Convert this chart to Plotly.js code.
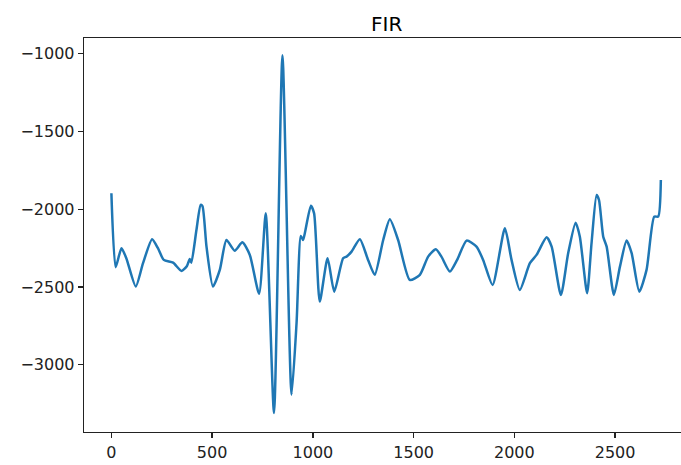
<!DOCTYPE html>
<html>
<head>
<meta charset="utf-8">
<script src="https://cdn.plot.ly/plotly-3.0.1.min.js"></script>
<style>html,body{margin:0;padding:0;background:#fff;overflow:hidden;}#chart{width:681px;height:465px;}</style>
</head>
<body>
<div id="chart"></div>
<script>
const sampleIndex = [0,21,50,74,121,157,202,231,260,306,348,375,389,397,422,443,452,472,504,538,571,612,650,687,733,766,807,849,894,919,940,951,960,990,1006,1034,1073,1106,1150,1167,1192,1233,1274,1307,1349,1382,1423,1481,1531,1572,1610,1638,1680,1716,1763,1812,1845,1892,1953,1986,2027,2077,2110,2160,2185,2231,2267,2304,2325,2361,2383,2408,2420,2441,2458,2494,2524,2557,2582,2620,2656,2694,2714,2727];
const firValues = [-1898,-2373,-2251,-2315,-2497,-2347,-2193,-2251,-2326,-2344,-2397,-2365,-2320,-2344,-2134,-1973,-1980,-2241,-2497,-2390,-2198,-2267,-2213,-2294,-2544,-2027,-3310,-1011,-3192,-2730,-2172,-2198,-2155,-1978,-2027,-2594,-2315,-2530,-2315,-2305,-2273,-2193,-2326,-2422,-2198,-2065,-2198,-2455,-2422,-2305,-2258,-2305,-2401,-2326,-2202,-2241,-2326,-2487,-2123,-2326,-2519,-2347,-2294,-2181,-2241,-2551,-2283,-2087,-2177,-2540,-2219,-1909,-1941,-2177,-2241,-2551,-2369,-2202,-2283,-2530,-2390,-2048,-2048,-1813];
const xTicks = [0,500,1000,1500,2000,2500];
const yTicks = [-3000,-2500,-2000,-1500,-1000];

const trace = {
  x: sampleIndex, y: firValues, type: 'scatter', mode: 'lines',
  line: {color: '#1f77b4', width: 2.5, shape: 'spline', smoothing: 0.6},
  hoverinfo: 'skip'
};
const axisCommon = {
  showgrid: false, zeroline: false, showline: true, linecolor: '#222', linewidth: 1.3,
  ticks: 'outside', ticklen: 5, tickwidth: 1.3, tickcolor: '#222',
  tickfont: {family: 'DejaVu Sans', size: 16, color: '#222'}
};
const layout = {
  width: 681, height: 465,
  margin: {l: 84, r: 0, t: 38, b: 33, pad: 0},
  paper_bgcolor: '#fff', plot_bgcolor: '#fff',
  showlegend: false,
  title: {text: 'FIR', font: {family: 'DejaVu Sans', size: 20, color: '#000'},
          xref: 'paper', x: 0.507, xanchor: 'center', yref: 'paper', y: 1, yanchor: 'bottom', pad: {b: 7}},
  xaxis: Object.assign({}, axisCommon, {range: [-136, 2827], tickmode: 'array', tickvals: xTicks, mirror: true}),
  yaxis: Object.assign({}, axisCommon, {range: [-3432, -900], tickmode: 'array', tickvals: yTicks, mirror: false})
};
Plotly.newPlot('chart', [trace], layout, {staticPlot: true, displayModeBar: false});
</script>
</body>
</html>
